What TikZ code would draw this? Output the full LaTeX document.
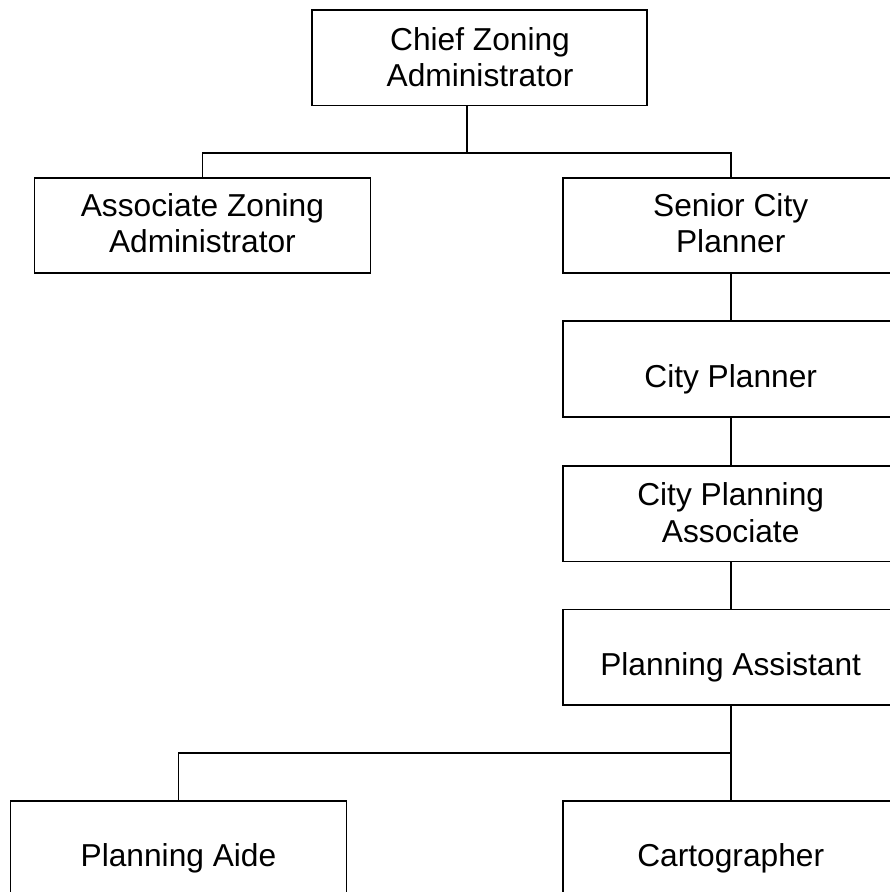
\documentclass[tikz,border=0pt]{standalone}
\usepackage{fontspec}
\setmainfont{Liberation Sans}
\begin{document}
\begin{tikzpicture}[x=1pt,y=-1pt,
  box/.style={draw=black,line width=1.8pt,rectangle,inner sep=0pt,minimum width=336pt,minimum height=95.6pt},
  lbl/.style={anchor=base,inner sep=0pt,font=\fontsize{31.7}{36}\selectfont},
  conn/.style={draw=black,line width=1.8pt}]
\useasboundingbox (0,0) rectangle (890,892);
\clip (0,0) rectangle (890,892);
% boxes
\node[box,minimum width=335pt] (chief) at (479.5,57.7) {};
\node[box] (assoc) at (202.4,225.5) {};
\node[box] (senior) at (730.7,225.5) {};
\node[box] (cityp) at (730.7,368.9) {};
\node[box] (cpa) at (730.7,513.7) {};
\node[box] (assist) at (730.7,657.2) {};
\node[box] (aide) at (178.5,848.8) {};
\node[box] (carto) at (730.7,848.8) {};
% labels
\node[lbl] (chiefA) at (480,50) {Chief Zoning};
\node[lbl] (chiefB) at (480,86) {Administrator};
\node[lbl] (assocA) at (202.4,216) {Associate Zoning};
\node[lbl] (assocB) at (202.4,252.5) {Administrator};
\node[lbl] (seniorA) at (730.7,216) {Senior City};
\node[lbl] (seniorB) at (730.7,252.5) {Planner};
\node[lbl] (citypA) at (730.7,387) {City Planner};
\node[lbl] (cpaA) at (730.7,505.5) {City Planning};
\node[lbl] (cpaB) at (730.7,542) {Associate};
\node[lbl] (assistA) at (730.7,675.5) {Planning Assistant};
\node[lbl] (aideA) at (178.5,866) {Planning Aide};
\node[lbl] (cartoA) at (730.7,866) {Cartographer};
% junctions
\coordinate (j1) at (466.7,153.3);
\coordinate (j2) at (730.7,752.7);
% connectors
\draw[conn] (j1 |- chief.south) -- (j1);
\draw[conn] (assoc.north) |- (j1) -| (senior.north);
\draw[conn] (senior.south) -- (cityp.north);
\draw[conn] (cityp.south) -- (cpa.north);
\draw[conn] (cpa.south) -- (assist.north);
\draw[conn] (assist.south) -- (carto.north);
\draw[conn] (aide.north) |- (j2);
\end{tikzpicture}
\end{document}
